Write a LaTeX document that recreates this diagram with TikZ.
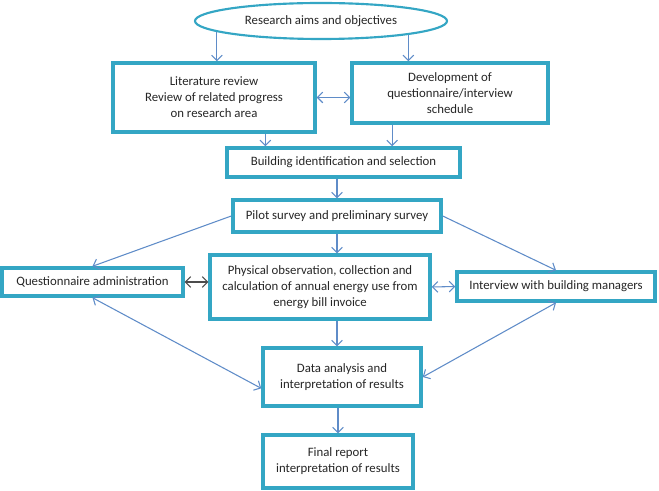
\documentclass[tikz,border=0pt]{standalone}
\usepackage{fontspec}
\setmainfont{Carlito}
\usetikzlibrary{calc,arrows.meta,shapes.geometric}
\definecolor{boxline}{RGB}{52,166,196}
\definecolor{arrline}{RGB}{95,140,200}
\tikzset{
  box/.style={draw=boxline, line width=2.6pt, fill=white, align=center,
    inner sep=1pt, text=black!85,
    font=\fontsize{9.6}{12}\selectfont},
  aim/.style={box, ellipse, line width=1.6pt},
  arr/.style={draw=arrline, line width=0.8pt,
    -{Straight Barb[length=4pt,width=8pt]}},
  arrboth/.style={arr, {Straight Barb[length=4pt,width=8pt]}-{Straight Barb[length=4pt,width=8pt]}}
}

\begin{document}
\begin{tikzpicture}[x=0.75pt,y=-0.75pt]
  \useasboundingbox (0,0) rectangle (659,491);

  \node[aim, minimum width=189pt, minimum height=27pt] (aims) at (321,21)
    {Research aims and objectives};
  \node[box, minimum width=151.5pt, minimum height=51.75pt] (lit) at (214,97.5)
    {Literature review\\Review of related progress\\on research area};
  \node[box, minimum width=147pt, minimum height=45pt] (dev) at (450,93)
    {Development of\\questionnaire/interview\\schedule};
  \node[box, minimum width=174.75pt, minimum height=21.75pt] (build) at (343.5,162.5)
    {Building identification and selection};
  \node[box, minimum width=156pt, minimum height=24pt] (pilot) at (337,216)
    {Pilot survey and preliminary survey};
  \node[box, minimum width=135.75pt, minimum height=21pt] (quest) at (92.5,282)
    {Questionnaire administration};
  \node[box, minimum width=165pt, minimum height=48pt] (phys) at (320,287)
    {Physical observation, collection and\\calculation of annual energy use from\\energy bill invoice};
  \node[box, minimum width=148.5pt, minimum height=21.75pt] (inter) at (556,286.5)
    {Interview with building managers};
  \node[box, minimum width=118.5pt, minimum height=43.5pt] (data) at (342,377)
    {Data analysis and\\interpretation of results};
  \node[box, minimum width=112.5pt, minimum height=39.75pt] (final) at (338,461.5)
    {Final report\\interpretation of results};

  % top part
  \draw[arr] (aims.-174) -- (aims.-174 |- lit.north);
  \draw[arr] (aims.-9) -- (aims.-9 |- dev.north);
  \draw[arrboth] (lit.east) -- (lit.east -| dev.west);
  \coordinate (l1) at ($(lit.south)!0.5!(lit.south east)$);
  \coordinate (d1) at ($(dev.south west)!0.21!(dev.south east)$);
  \draw[arr] (l1) -- (l1 |- build.north);
  \draw[arr] (d1) -- (d1 |- build.north);
  \draw[arr] (pilot.north |- build.south) -- (pilot.north);

  % middle part
  \draw[arr] (pilot.south) -- (pilot.south |- phys.north);
  \draw[arr] (pilot.west) -- (quest.north);
  \draw[arr] (pilot.east) -- (inter.north);
  \draw[line width=0.8pt, black!70, {Straight Barb[length=4pt,width=8pt]}-{Straight Barb[length=4pt,width=8pt]}]
    (quest.east) -- (quest.east -| phys.west);
  \draw[arrboth] (phys.east) -- (inter.west);

  % bottom part
  \draw[arr] (pilot.south |- phys.south) -- (pilot.south |- data.north);
  \draw[arrboth] (quest.south) -- (data.-172);
  \draw[arrboth] (inter.south) -- (data.east);
  \draw[arr] (final.north |- data.south) -- (final.north);
\end{tikzpicture}
\end{document}
